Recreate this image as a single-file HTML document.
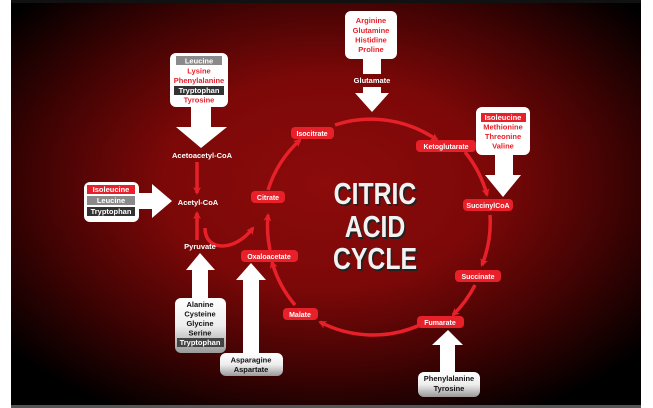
<!DOCTYPE html>
<html><head><meta charset="utf-8"><style>
html,body{margin:0;padding:0;background:#fff;}
svg{display:block;font-family:"Liberation Sans",sans-serif;}
</style></head><body>
<svg width="653" height="408" viewBox="0 0 653 408" xmlns="http://www.w3.org/2000/svg">
<defs>
<radialGradient id="bg" cx="0.5" cy="0.45" r="0.65">
<stop offset="0" stop-color="#8c0b0b"/>
<stop offset="0.4" stop-color="#7c0808"/>
<stop offset="0.7" stop-color="#420303"/>
<stop offset="1" stop-color="#000"/>
</radialGradient>
<linearGradient id="gb" x1="0" y1="0" x2="0" y2="1"><stop offset="0" stop-color="#fff"/><stop offset="0.5" stop-color="#eee"/><stop offset="1" stop-color="#999"/></linearGradient>
<marker id="ah" markerWidth="8" markerHeight="8" refX="6" refY="4" orient="auto" markerUnits="userSpaceOnUse"><path d="M0,0 L8,4 L0,8 L2,4 Z" fill="#e8202a"/></marker>
</defs>
<rect x="11" y="0" width="630" height="406" fill="url(#bg)"/>
<rect x="11" y="0" width="630" height="3" fill="#111"/>
<rect x="11" y="405" width="630" height="3" fill="#555"/>

<g fill="none" stroke="#e8202a" stroke-width="3.5" marker-end="url(#ah)">
<path d="M268,190 A115,115 0 0 1 300,140"/>
<path d="M335,125 A115,115 0 0 1 437,140"/>
<path d="M465,152 A115,115 0 0 1 487,195"/>
<path d="M490,215 A115,115 0 0 1 482,265"/>
<path d="M475,285 A115,115 0 0 1 453,315"/>
<path d="M420,325 A115,115 0 0 1 320,322"/>
<path d="M295,305 A115,115 0 0 1 272,262"/>
<path d="M270,250 A115,115 0 0 1 268,215"/>
<path d="M197,162 L197,193"/>
<path d="M197,240 L197,213"/>
<path d="M205,228 C205,252 235,252 253,228"/>
</g>

<g fill="#fff">
<path d="M191,105 L211,105 L211,127 L227,127 L201,148 L176,127 L191,127 Z"/>
<path d="M363,58 L381,58 L381,74 L363,74 Z"/>
<path d="M363,87 L381,87 L381,93 L389,93 L372,112 L355,93 L363,93 Z"/>
<path d="M495,153 L513,153 L513,175 L521,175 L503,197 L485,175 L495,175 Z"/>
<path d="M136,193 L152,193 L152,184 L172,201 L152,218 L152,209 L136,209 Z"/>
<path d="M192,300 L192,270 L186,270 L200,253 L215,270 L208,270 L208,300 Z"/>
<path d="M243,356 L243,280 L236,280 L251,263 L266,280 L259,280 L259,356 Z"/>
<path d="M440,374 L440,345 L432,345 L448,330 L463,345 L455,345 L455,374 Z"/>
</g>

<rect x="170" y="53" width="58" height="54" rx="6" fill="#fff"/>
<rect x="345" y="11" width="52" height="48" rx="6" fill="#fff"/>
<rect x="476" y="107" width="54" height="48" rx="6" fill="#fff"/>
<rect x="84" y="182" width="55" height="40" rx="6" fill="#fff"/>
<rect x="175" y="298" width="51" height="55" rx="6" fill="url(#gb)"/>
<rect x="220" y="353" width="63" height="23" rx="6" fill="url(#gb)"/>
<rect x="418" y="372" width="62" height="25" rx="6" fill="url(#gb)"/>

<g font-size="7.5" font-weight="bold" text-anchor="middle">
<rect x="176" y="56" width="46" height="9" fill="#8a8a8a"/>
<text x="199" y="63.5" fill="#fff">Leucine</text>
<text x="199" y="73.5" fill="#e8202a">Lysine</text>
<text x="199" y="83" fill="#e8202a">Phenylalanine</text>
<rect x="174" y="86" width="50" height="9" fill="#333"/>
<text x="199" y="93" fill="#fff">Tryptophan</text>
<text x="199" y="102.5" fill="#e8202a">Tyrosine</text>

<text x="371" y="23" fill="#e8202a">Arginine</text>
<text x="371" y="33" fill="#e8202a">Glutamine</text>
<text x="371" y="42.5" fill="#e8202a">Histidine</text>
<text x="371" y="52" fill="#e8202a">Proline</text>

<rect x="481" y="113" width="45" height="9" fill="#e8202a"/>
<text x="503" y="120" fill="#fff">Isoleucine</text>
<text x="503" y="129.5" fill="#e8202a">Methionine</text>
<text x="503" y="139" fill="#e8202a">Threonine</text>
<text x="503" y="148.5" fill="#e8202a">Valine</text>

<rect x="87" y="185" width="48" height="9" fill="#e8202a"/>
<text x="111" y="192" fill="#fff">Isoleucine</text>
<rect x="87" y="196" width="48" height="9" fill="#8a8a8a"/>
<text x="111" y="203" fill="#fff">Leucine</text>
<rect x="87" y="207" width="48" height="9" fill="#333"/>
<text x="111" y="214" fill="#fff">Tryptophan</text>

<text x="200" y="307" fill="#111">Alanine</text>
<text x="200" y="316.5" fill="#111">Cysteine</text>
<text x="200" y="326" fill="#111">Glycine</text>
<text x="200" y="335.5" fill="#111">Serine</text>
<rect x="177" y="338" width="47" height="9" fill="#444"/>
<text x="200" y="345" fill="#fff">Tryptophan</text>

<text x="251" y="362.5" fill="#111">Asparagine</text>
<text x="251" y="372" fill="#111">Aspartate</text>
<text x="449" y="381" fill="#111">Phenylalanine</text>
<text x="449" y="391" fill="#111">Tyrosine</text>

<text x="202" y="158" fill="#fff">Acetoacetyl-CoA</text>
<text x="198" y="205" fill="#fff">Acetyl-CoA</text>
<text x="200" y="249" fill="#fff">Pyruvate</text>
<text x="372" y="83" fill="#fff">Glutamate</text>
</g>

<g font-size="7" font-weight="bold" text-anchor="middle" fill="#fff">
<rect x="291" y="127" width="43" height="12" rx="4" fill="#e8202a"/><text x="312" y="136">Isocitrate</text>
<rect x="416" y="140" width="60" height="12" rx="4" fill="#e8202a"/><text x="446" y="149">Ketoglutarate</text>
<rect x="463" y="199" width="50" height="12" rx="4" fill="#e8202a"/><text x="488" y="208">SuccinylCoA</text>
<rect x="455" y="270" width="46" height="12" rx="4" fill="#e8202a"/><text x="478" y="279">Succinate</text>
<rect x="417" y="316" width="47" height="12" rx="4" fill="#e8202a"/><text x="440" y="325">Fumarate</text>
<rect x="283" y="308" width="35" height="12" rx="4" fill="#e8202a"/><text x="300" y="317">Malate</text>
<rect x="241" y="250" width="57" height="12" rx="4" fill="#e8202a"/><text x="269" y="259">Oxaloacetate</text>
<rect x="251" y="191" width="34" height="12" rx="4" fill="#e8202a"/><text x="268" y="200">Citrate</text>
</g>

<g transform="translate(375,0) scale(0.8,1)" font-size="31" font-weight="bold" text-anchor="middle">
<g fill="#222" transform="translate(2,2)">
<text x="0" y="204">CITRIC</text>
<text x="0" y="237">ACID</text>
<text x="0" y="269">CYCLE</text>
</g>
<g fill="#f2f2f2">
<text x="0" y="204">CITRIC</text>
<text x="0" y="237">ACID</text>
<text x="0" y="269">CYCLE</text>
</g>
</g>
</svg>
</body></html>
